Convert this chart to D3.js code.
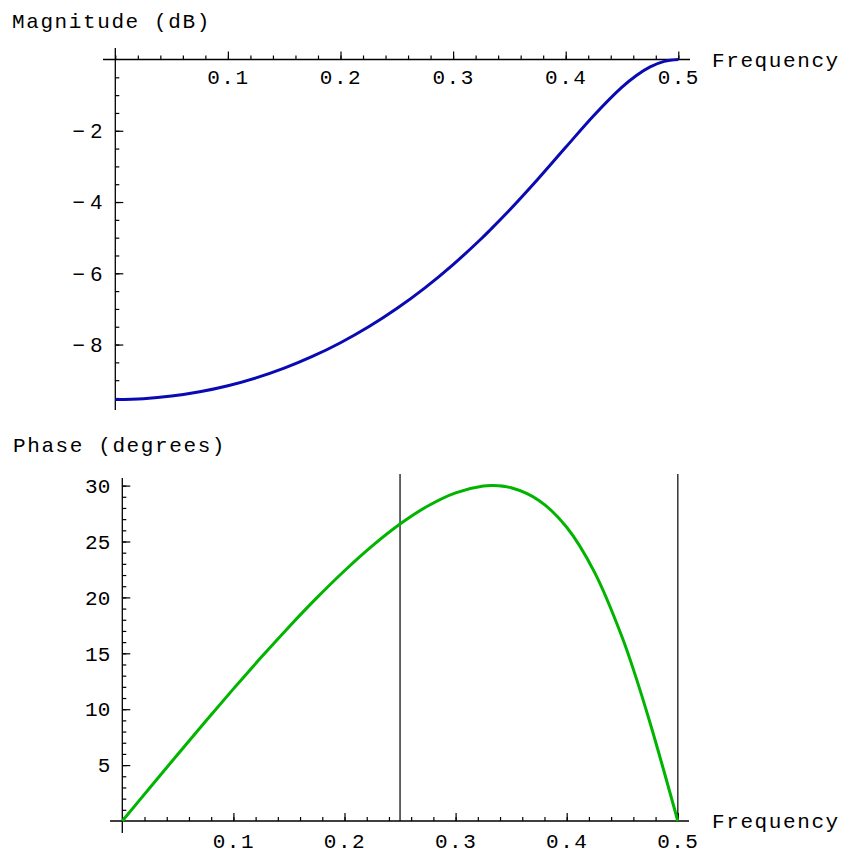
<!DOCTYPE html>
<html>
<head>
<meta charset="utf-8">
<script src="https://cdn.jsdelivr.net/npm/d3@7"></script>
<style>
  body { margin: 0; background: #fff; }
  svg text { font-family: "Liberation Mono", "DejaVu Sans Mono", monospace; fill: #000; }
</style>
</head>
<body>
<div id="chart"></div>
<script>
// frequency samples (cycles/sample)
const freq = [0, 0.025, 0.05, 0.075, 0.1, 0.125, 0.15, 0.175, 0.2, 0.225, 0.25,
    0.275, 0.3, 0.325, 0.3333, 0.35, 0.375, 0.4, 0.425, 0.45, 0.4625, 0.475, 0.4875, 0.5];
// magnitude response, dB
const magnitudeDb = [-9.542, -9.519, -9.447, -9.327, -9.157, -8.937, -8.664, -8.335, -7.949, -7.502, -6.990,
    -6.409, -5.756, -5.030, -4.771, -4.231, -3.368, -2.465, -1.571, -0.776, -0.455, -0.209, -0.053, 0];
// phase response, degrees
const phaseDeg = [0, 2.997, 5.978, 8.925, 11.819, 14.639, 17.361, 19.954, 22.386, 24.611, 26.565,
    28.178, 29.355, 29.955, 30.0, 29.806, 28.674, 26.275, 22.263, 16.415, 12.799, 8.785, 4.473, 0];
// vertical marker lines in the phase plot
const markerFreqs = [0.25, 0.5];

const freqTicks = [0.1, 0.2, 0.3, 0.4, 0.5];
const magTicks = [-2, -4, -6, -8];
const phaseTicks = [5, 10, 15, 20, 25, 30];

const width = 845;
const height = 855;
const fontSize = '21px';

const svg = d3.select('#chart')
    .append('svg')
    .attr('width', width)
    .attr('height', height);

const minorFreq = d3.range(0, 0.5001, 0.02);

// draws a Mathematica-style axis pair crossing at the origin
function drawAxes(g, x, y, opts) {
    // x axis: ticks point up, labels below
    g.append('g')
        .attr('transform', `translate(0,${opts.yAt})`)
        .call(d3.axisBottom(x).tickValues(minorFreq).tickSize(-4).tickFormat(''))
        .call(a => a.select('.domain').remove());
    g.append('g')
        .attr('transform', `translate(0,${opts.yAt})`)
        .call(d3.axisBottom(x).tickValues(freqTicks).tickSize(-8).tickPadding(opts.xPad)
            .tickFormat(d3.format('.1f')))
        .call(a => a.select('.domain').remove())
        .call(a => a.selectAll('text').style('font-size', fontSize).style('letter-spacing', '1.5px'));

    // y axis: ticks point right, labels left
    g.append('g')
        .attr('transform', `translate(${opts.xAt},0)`)
        .call(d3.axisLeft(y).tickValues(opts.yMinor).tickSize(-4).tickFormat(''))
        .call(a => a.select('.domain').remove());
    g.append('g')
        .attr('transform', `translate(${opts.xAt},0)`)
        .call(d3.axisLeft(y).tickValues(opts.yTicks).tickSize(-8).tickPadding(opts.yPad)
            .tickFormat(opts.yFormat))
        .call(a => a.select('.domain').remove())
        .call(a => a.selectAll('text').style('font-size', fontSize).style('font-family', opts.yFont));

    g.selectAll('.tick line').attr('stroke', '#000').attr('stroke-width', 1.2);

    // axis lines, extended a bit past the ticks
    g.append('line')
        .attr('x1', opts.xLine[0]).attr('x2', opts.xLine[1])
        .attr('y1', opts.yAt).attr('y2', opts.yAt)
        .attr('stroke', '#000').attr('stroke-width', 1.3);
    g.append('line')
        .attr('x1', opts.xAt).attr('x2', opts.xAt)
        .attr('y1', opts.yLine[0]).attr('y2', opts.yLine[1])
        .attr('stroke', '#000').attr('stroke-width', 1.3);

    g.append('text')
        .attr('x', 712).attr('y', opts.yAt + 7)
        .style('font-size', fontSize).style('letter-spacing', '1.6px')
        .text('Frequency');
}

// ---- magnitude plot ----
const xTop = d3.scaleLinear().domain([0, 0.5]).range([115.3, 678.3]);
const yTop = d3.scaleLinear().domain([0, -9.5]).range([59.5, 398]);
const gTop = svg.append('g').attr('class', 'magnitude');

drawAxes(gTop, xTop, yTop, {
    yAt: yTop(0),
    xAt: xTop(0),
    xPad: 10,
    yPad: 13,
    yTicks: magTicks,
    yMinor: d3.range(-0.5, -9.51, -0.5),
    yFormat: d => '\u2212 ' + Math.abs(d),
    yFont: '"Liberation Sans", sans-serif',
    xLine: [103, 690],
    yLine: [48, 410]
});

gTop.append('path')
    .datum(freq.map((f, i) => [f, magnitudeDb[i]]))
    .attr('fill', 'none')
    .attr('stroke', '#0a0ab4')
    .attr('stroke-width', 3)
    .attr('d', d3.line().x(d => xTop(d[0])).y(d => yTop(d[1])).curve(d3.curveCatmullRom));

gTop.append('text')
    .attr('x', 12).attr('y', 28)
    .style('font-size', fontSize).style('letter-spacing', '1.6px')
    .text('Magnitude (dB)');

// ---- phase plot ----
const xBot = d3.scaleLinear().domain([0, 0.5]).range([122.3, 677.8]);
const yBot = d3.scaleLinear().domain([0, 30]).range([821, 485.6]);
const gBot = svg.append('g').attr('class', 'phase');

gBot.selectAll('line.marker')
    .data(markerFreqs)
    .join('line')
    .attr('class', 'marker')
    .attr('x1', d => xBot(d)).attr('x2', d => xBot(d))
    .attr('y1', 474).attr('y2', yBot(0))
    .attr('stroke', '#333').attr('stroke-width', 1.5);

drawAxes(gBot, xBot, yBot, {
    yAt: yBot(0),
    xAt: xBot(0),
    xPad: 12,
    yPad: 12,
    yTicks: phaseTicks,
    yMinor: d3.range(1, 30.01, 1),
    yFormat: d3.format('d'),
    yFont: '"Liberation Mono", monospace',
    xLine: [110, 689],
    yLine: [478, 833]
});

gBot.append('path')
    .datum(freq.map((f, i) => [f, phaseDeg[i]]))
    .attr('fill', 'none')
    .attr('stroke', '#00b400')
    .attr('stroke-width', 3)
    .attr('d', d3.line().x(d => xBot(d[0])).y(d => yBot(d[1])).curve(d3.curveCatmullRom));

gBot.append('text')
    .attr('x', 13).attr('y', 452)
    .style('font-size', fontSize).style('letter-spacing', '1.6px')
    .text('Phase (degrees)');
</script>
</body>
</html>
